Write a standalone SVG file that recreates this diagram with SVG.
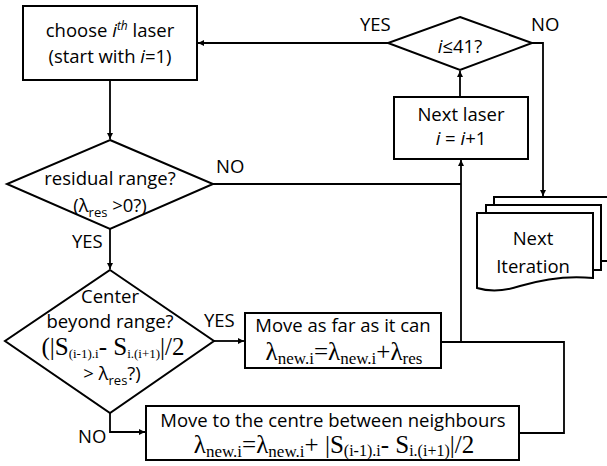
<svg xmlns="http://www.w3.org/2000/svg" width="607" height="466" viewBox="0 0 607 466">
<style>
  .shape { fill: #ffffff; stroke: #000000; stroke-width: 2; }
  .conn { fill: none; stroke: #000000; stroke-width: 1.8; }
  .t { font-family: "Open Sans", "Liberation Sans", sans-serif; font-size: 18.5px; fill: #000000; text-anchor: middle; }
  .lbl { font-family: "Open Sans", "Liberation Sans", sans-serif; font-size: 18.5px; fill: #000000; }
  .m { font-family: "Liberation Serif", "DejaVu Serif", serif; font-size: 25px; fill: #000000; text-anchor: middle; }
  .it { font-style: italic; }
</style>
<defs>
  <marker id="arr" viewBox="0 0 10 10" refX="10" refY="5" markerWidth="6" markerHeight="6" markerUnits="userSpaceOnUse" orient="auto">
    <path d="M0,0 L10,5 L0,10 z" fill="#000000"/>
  </marker>
</defs>

<g id="connectors">
  <path class="conn" d="M110,80 V139" marker-end="url(#arr)"/>
  <path class="conn" d="M213,184 H461"/>
  <path class="conn" d="M110,229 V269" marker-end="url(#arr)"/>
  <path class="conn" d="M214,341 H244" marker-end="url(#arr)"/>
  <path class="conn" d="M110,413 V432 H145" marker-end="url(#arr)"/>
  <path class="conn" d="M519,433 H564 V342 H441"/>
  <path class="conn" d="M461,342 V160" marker-end="url(#arr)"/>
  <path class="conn" d="M460,97 V71" marker-end="url(#arr)"/>
  <path class="conn" d="M388,43 H198" marker-end="url(#arr)"/>
  <path class="conn" d="M532,43 H543 V196" marker-end="url(#arr)"/>
  <text class="lbl" x="360" y="31">YES</text>
  <text class="lbl" x="531" y="31">NO</text>
  <text class="lbl" x="216" y="173">NO</text>
  <text class="lbl" x="72" y="248">YES</text>
  <text class="lbl" x="204" y="327">YES</text>
  <text class="lbl" x="78" y="443">NO</text>
</g>

<g id="choose-laser">
  <rect class="shape" x="23" y="6" width="174" height="74"/>
  <text class="t" x="110" y="37">choose <tspan class="it">i</tspan><tspan class="it" font-size="12" dy="-7">th</tspan><tspan dy="7"> laser</tspan></text>
  <text class="t" x="110" y="63">(start with <tspan class="it">i</tspan>=1)</text>
</g>

<g id="check-i">
  <polygon class="shape" points="460,17 532,43 460,70 388,43"/>
  <text class="t" x="460" y="53"><tspan class="it">i</tspan>≤41?</text>
</g>

<g id="next-laser">
  <rect class="shape" x="394" y="97" width="134" height="62"/>
  <text class="t" x="461" y="121">Next laser</text>
  <text class="t" x="461" y="145"><tspan class="it">i</tspan> = <tspan class="it">i</tspan>+1</text>
</g>

<g id="residual-range">
  <polygon class="shape" points="110,140 213,184 110,229 7,184"/>
  <text class="t" x="110" y="185">residual range?</text>
  <text class="t" x="110" y="212">(λ<tspan font-size="13" dy="5">res</tspan><tspan dy="-5"> &gt;0?)</tspan></text>
</g>

<g id="center-beyond">
  <polygon class="shape" points="110,270 214,341 110,413 5,341"/>
  <text class="t" x="110" y="303">Center</text>
  <text class="t" x="110" y="328">beyond range?</text>
  <text class="m" x="113" y="355" font-size="20">(|S<tspan font-size="13" dy="3">(i-1).i</tspan><tspan dy="-3">- S</tspan><tspan font-size="13" dy="3">i.(i+1)</tspan><tspan dy="-3">|/2</tspan></text>
  <text class="t" x="112" y="380">&gt; λ<tspan font-size="13" dy="5">res</tspan><tspan dy="-5">?)</tspan></text>
</g>

<g id="move-far">
  <rect class="shape" x="245" y="313" width="196" height="55"/>
  <text class="t" x="343" y="332">Move as far as it can</text>
  <text class="m" x="344" y="360">λ<tspan font-size="17" dy="4">new.i</tspan><tspan dy="-4">=λ</tspan><tspan font-size="17" dy="4">new.i</tspan><tspan dy="-4">+λ</tspan><tspan font-size="17" dy="4">res</tspan></text>
</g>

<g id="move-centre">
  <rect class="shape" x="146" y="406" width="373" height="54"/>
  <text class="t" x="333" y="427" font-size="19">Move to the centre between neighbours</text>
  <text class="m" x="334" y="453">λ<tspan font-size="17" dy="4">new.i</tspan><tspan dy="-4">=λ</tspan><tspan font-size="17" dy="4">new.i</tspan><tspan dy="-4">+  |S</tspan><tspan font-size="16" dy="3">(i-1).i</tspan><tspan dy="-3">- S</tspan><tspan font-size="16" dy="3">i.(i+1)</tspan><tspan dy="-3">|/2</tspan></text>
</g>

<g id="next-iteration">
  <rect class="shape" x="494" y="197" width="120" height="64"/>
  <rect class="shape" x="486" y="205" width="115" height="65"/>
  <path class="shape" d="M477,213 H593 V278 C565,275 540,280 520,286 C505,291 490,292 477,288 Z"/>
  <text class="t" x="533" y="245">Next</text>
  <text class="t" x="533" y="273">Iteration</text>
</g>
</svg>
